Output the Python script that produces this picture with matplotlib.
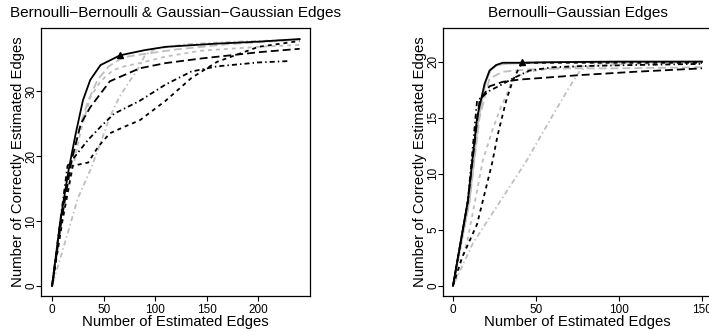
import numpy as np
import matplotlib
matplotlib.use("Agg")
import matplotlib.pyplot as plt

plt.rcParams['font.family'] = ['Liberation Sans', 'DejaVu Sans']

# ---- left panel: Bernoulli-Bernoulli & Gaussian-Gaussian ----
l_solid_x = [0, 8, 16, 23, 30, 37, 47, 66, 90, 110, 160, 200, 240]
l_solid_y = [0, 10, 17.8, 23.5, 28.6, 31.7, 34, 35.5, 36.3, 36.8, 37.3, 37.6, 38.0]
l_gldash_x = [0, 9, 18, 26, 35, 44, 55, 69, 85, 120, 170, 240]
l_gldash_y = [0, 10, 18, 24, 28.5, 31.7, 33.8, 35.2, 35.6, 36.4, 37.2, 37.9]
l_gsdash_x = [0, 10, 20, 28, 37, 47, 59, 70, 85, 110, 144, 200, 240]
l_gsdash_y = [0, 10, 18, 24, 29, 31.5, 33.2, 33.8, 34.3, 35.3, 36.2, 36.8, 37.1]
l_gdotdash_x = [0, 14, 25, 37, 47, 56, 65, 75, 82, 90, 100, 130, 180, 240]
l_gdotdash_y = [0, 7.5, 13.5, 17.8, 22, 26, 29, 31.5, 33, 35.5, 36.5, 37.2, 37.6, 37.9]
l_ldash_x = [0, 9, 19, 28, 37, 56, 85, 110, 144, 202, 240]
l_ldash_y = [0, 10, 19.4, 25, 27.5, 31.5, 33.5, 34.3, 35, 36, 36.5]
l_dotdash_x = [0, 8, 15, 25, 35, 47, 60, 85, 110, 135, 160, 200, 228]
l_dotdash_y = [0, 10, 18.5, 20.5, 22.5, 24.5, 26.5, 28.5, 31, 33, 33.8, 34.4, 34.6]
l_sdash_x = [0, 10, 20, 35, 45, 56, 70, 85, 110, 135, 160, 200, 240]
l_sdash_y = [0, 10, 18.5, 19, 21.5, 23.5, 24.5, 25.5, 28.5, 32, 34.5, 36.8, 37.7]
l_tri = (66, 35.5)

# ---- right panel: Bernoulli-Gaussian ----
r_solid_x = [0, 9, 14.5, 19, 22, 26, 30, 40, 60, 100, 150]
r_solid_y = [0, 7.6, 15, 18, 19.2, 19.7, 19.9, 19.9, 19.95, 20, 20]
r_gsolid_x = [0, 10, 15.5, 20, 23, 27, 32, 45, 80, 150]
r_gsolid_y = [0, 7.6, 15, 18.3, 19.3, 19.7, 19.8, 19.9, 20, 20]
r_ldash_x = [0, 9, 14, 16, 22, 30, 40, 76.5, 110, 150]
r_ldash_y = [0, 7.6, 14, 16.5, 17.8, 18.2, 18.4, 18.8, 19.1, 19.4]
r_dotdash_x = [0, 9, 14.5, 22, 30, 36, 46, 60, 76.5, 110, 150]
r_dotdash_y = [0, 7.6, 16.5, 17.4, 18.0, 18.5, 19.2, 19.5, 19.6, 19.7, 19.8]
r_sdash_x = [0, 5.4, 14.5, 23.5, 27, 32, 36, 40, 42, 60, 100, 150]
r_sdash_y = [0, 2.5, 5.5, 10.9, 13.5, 16.5, 18.3, 19.5, 19.9, 19.9, 19.9, 19.9]
r_gsdash_x = [0, 8.4, 18, 24, 29, 32.5, 36, 45, 60, 80, 110, 150]
r_gsdash_y = [0, 3.8, 11.2, 14, 16, 17.1, 18.5, 19.1, 19.4, 19.6, 19.8, 19.9]
r_gldash_x = [0, 10, 16, 22, 30, 45, 70, 100, 150]
r_gldash_y = [0, 7.6, 15, 18.5, 19.1, 19.3, 19.4, 19.4, 19.5]
r_gdotdash_x = [0, 12, 44.5, 60, 70, 76.5, 85, 100, 150]
r_gdotdash_y = [0, 3.8, 11.2, 15.2, 17.7, 19.2, 19.8, 19.9, 20]
r_tri = (41.5, 20.0)

GRAY = '#BEBEBE'
SD = (2.2, 2.2)          # short dash
LD = (4.4, 2.2)          # long dash
DD = (0.8, 1.7, 2.8, 1.7)  # dot dash
LW = 1.3

fig = plt.figure(figsize=(7.09, 3.32), dpi=100)
W, H = 709, 332
ax1 = fig.add_axes([41 / W, 36 / H, 269 / W, 268 / H])
ax2 = fig.add_axes([443 / W, 36 / H, 269 / W, 268 / H])

def line(ax, x, y, col, dash=None):
    ln, = ax.plot(x, y, color=col, lw=LW)
    if dash is not None:
        ln.set_dashes(dash)

# gray first, black on top
line(ax1, l_gldash_x, l_gldash_y, GRAY, LD)
line(ax1, l_gsdash_x, l_gsdash_y, GRAY, SD)
line(ax1, l_gdotdash_x, l_gdotdash_y, GRAY, DD)
line(ax1, l_ldash_x, l_ldash_y, 'black', LD)
line(ax1, l_dotdash_x, l_dotdash_y, 'black', DD)
line(ax1, l_sdash_x, l_sdash_y, 'black', SD)
line(ax1, l_solid_x, l_solid_y, 'black')
ax1.plot([l_tri[0]], [l_tri[1]], marker='^', color='black', ms=5)

line(ax2, r_gsolid_x, r_gsolid_y, GRAY)
line(ax2, r_gldash_x, r_gldash_y, GRAY, LD)
line(ax2, r_gsdash_x, r_gsdash_y, GRAY, SD)
line(ax2, r_gdotdash_x, r_gdotdash_y, GRAY, DD)
line(ax2, r_ldash_x, r_ldash_y, 'black', LD)
line(ax2, r_dotdash_x, r_dotdash_y, 'black', DD)
line(ax2, r_sdash_x, r_sdash_y, 'black', SD)
line(ax2, r_solid_x, r_solid_y, 'black')
ax2.plot([r_tri[0]], [r_tri[1]], marker='^', color='black', ms=5)

ax1.set_xlim(-10.7, 250)
ax1.set_ylim(-1.53, 39.7)
ax1.set_xticks([0, 50, 100, 150, 200])
ax1.set_yticks([0, 10, 20, 30])
ax1.set_title('Bernoulli\u2212Bernoulli & Gaussian\u2212Gaussian Edges', fontsize=11, pad=8)

ax2.set_xlim(-6, 156)
ax2.set_ylim(-0.9, 23.0)
ax2.set_xticks([0, 50, 100, 150])
ax2.set_yticks([0, 5, 10, 15, 20])
ax2.set_title('Bernoulli\u2212Gaussian Edges', fontsize=11, pad=8)

for ax in (ax1, ax2):
    ax.set_xlabel('Number of Estimated Edges', fontsize=10.7)
    ax.set_ylabel('Number of Correctly Estimated Edges', fontsize=10.7)
    ax.xaxis.set_label_coords(0.5, -0.072)
    ax.yaxis.set_label_coords(-0.058, 0.5)
    ax.tick_params(length=3.5, width=0.8, labelsize=8.5, pad=2)
    ax.tick_params(axis='y', pad=-1)
    for lab in ax.get_yticklabels():
        lab.set_rotation(90)
        lab.set_va('center')
    for s in ax.spines.values():
        s.set_linewidth(0.9)

fig.savefig('out.png', dpi=100)
